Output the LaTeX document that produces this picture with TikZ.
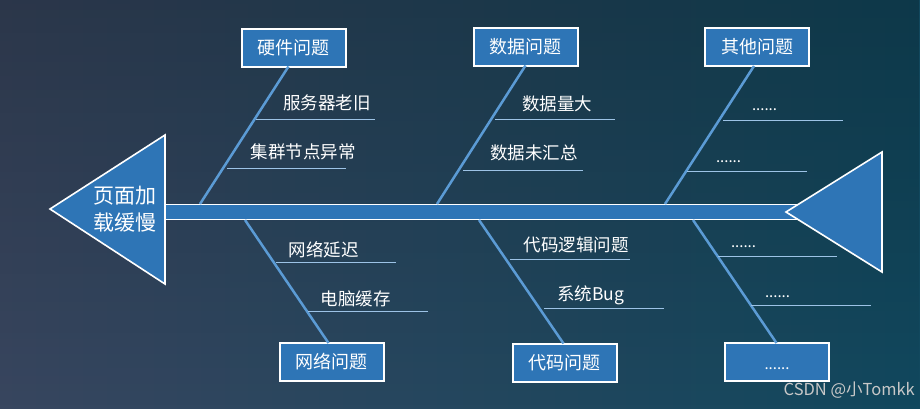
\documentclass[tikz,border=0pt]{standalone}
\usepackage{fontspec}
\setmainfont{Noto Sans CJK SC}
\usetikzlibrary{fadings}
\definecolor{bgl}{HTML}{38465F}
\definecolor{bgr}{HTML}{11485E}
\definecolor{boxblue}{HTML}{2E75B6}
\definecolor{branchc}{HTML}{5B9BD5}
\definecolor{subc}{HTML}{9DC3E6}
\definecolor{wmc}{HTML}{C8C8C8}
\begin{document}
\begin{tikzpicture}[x=1pt,y=-1pt,
  catbox/.style={draw=white, line width=2pt, fill=boxblue, minimum width=104pt, minimum height=38pt, inner sep=0pt, text=white, font=\fontsize{18}{20}\selectfont},
  cause/.style={text=white, font=\fontsize{17.5}{20}\selectfont, inner sep=0pt},
  dots/.style={text=white, font=\fontsize{15}{18}\selectfont, inner sep=0pt, anchor=base},
  bone/.style={draw=branchc, line width=2.5pt},
  subbone/.style={draw=subc, line width=0.9pt},
  shapeb/.style={draw=white, line width=1.6pt, fill=boxblue, line join=miter}]
\useasboundingbox (0,0) rectangle (920,408);
% background
\shade[left color=bgl, right color=bgr] (0,0) rectangle (920,408);
\fill[black, fill opacity=0.22, path fading=south] (0,0) rectangle (920,408);

% spine
\draw[shapeb] (160,204.5) rectangle (805,219.5);

% spine points
\coordinate (s1) at (200,204);
\coordinate (s2) at (437,204);
\coordinate (s3) at (665,204);
\coordinate (s4) at (245,220);
\coordinate (s5) at (479,220);
\coordinate (s6) at (693,220);

% category boxes
\node[catbox] (hw) at (293.5,47.5) {硬件问题};
\node[catbox] (data) at (525.5,46.5) {数据问题};
\node[catbox] (other) at (757,47) {其他问题};
\node[catbox] (net) at (331.5,362) {网络问题};
\node[catbox] (code) at (564.5,362.5) {代码问题};
\node[catbox] (more) at (776.5,362) {};
\node[dots] (moredots) at (777,369) {......};

% bones
\draw[bone] (s1) -- ([xshift=-5pt,yshift=1pt]hw.south);
\draw[bone] (s2) -- ([yshift=1pt]data.south);
\draw[bone] (s3) -- ([xshift=-3pt,yshift=1pt]other.south);
\draw[bone] (s4) -- ([xshift=-3pt,yshift=-1pt]net.north);
\draw[bone] (s5) -- ([xshift=-1pt,yshift=-1pt]code.north);
\draw[bone] (s6) -- ([yshift=-1pt]more.north);

% sub-causes
\coordinate (a1) at (256,119); \coordinate (b1) at (375,119);
\draw[subbone] (a1) -- (b1);
\node[cause] (c1) at (327,102.5) {服务器老旧};
\coordinate (a2) at (227,168); \coordinate (b2) at (346,168);
\draw[subbone] (a2) -- (b2);
\node[cause] (c2) at (303,152) {集群节点异常};
\coordinate (a3) at (495,119); \coordinate (b3) at (615,119);
\draw[subbone] (a3) -- (b3);
\node[cause] (c3) at (557,103.5) {数据量大};
\coordinate (a4) at (463,170); \coordinate (b4) at (583,170);
\draw[subbone] (a4) -- (b4);
\node[cause] (c4) at (534,153) {数据未汇总};
\coordinate (a5) at (723,120); \coordinate (b5) at (843,120);
\draw[subbone] (a5) -- (b5);
\node[dots] (c5) at (764.5,110) {......};
\coordinate (a6) at (687,171); \coordinate (b6) at (807,171);
\draw[subbone] (a6) -- (b6);
\node[dots] (c6) at (728.5,162) {......};

\coordinate (a7) at (276,262); \coordinate (b7) at (396,262);
\draw[subbone] (a7) -- (b7);
\node[cause] (c7) at (323.5,249.5) {网络延迟};
\coordinate (a8) at (308,311); \coordinate (b8) at (428,311);
\draw[subbone] (a8) -- (b8);
\node[cause] (c8) at (355.5,299) {电脑缓存};
\coordinate (a9) at (510,259); \coordinate (b9) at (630,259);
\draw[subbone] (a9) -- (b9);
\node[cause] (c9) at (576,245) {代码逻辑问题};
\coordinate (a10) at (544,308); \coordinate (b10) at (664,308);
\draw[subbone] (a10) -- (b10);
\node[cause] (c10) at (590.5,295) {系统Bug};
\coordinate (a11) at (718,256); \coordinate (b11) at (837,256);
\draw[subbone] (a11) -- (b11);
\node[dots] (c11) at (743.5,247) {......};
\coordinate (a12) at (751,305); \coordinate (b12) at (871,305);
\draw[subbone] (a12) -- (b12);
\node[dots] (c12) at (777.5,297) {......};

% head and tail
\draw[shapeb] (50,209) -- (165,135) -- (165,284) -- cycle;
\node[text=white, align=center, inner sep=0pt, font=\fontsize{21}{27}\selectfont] (head) at (125,209.5) {页面加\\载缓慢};
\draw[shapeb] (786,212) -- (882,152) -- (882,272) -- cycle;

% watermark
\node[text=wmc, inner sep=0pt, anchor=east, font=\fontsize{16.5}{18}\selectfont] (wm) at (915,390) {CSDN @小Tomkk};
\end{tikzpicture}
\end{document}
